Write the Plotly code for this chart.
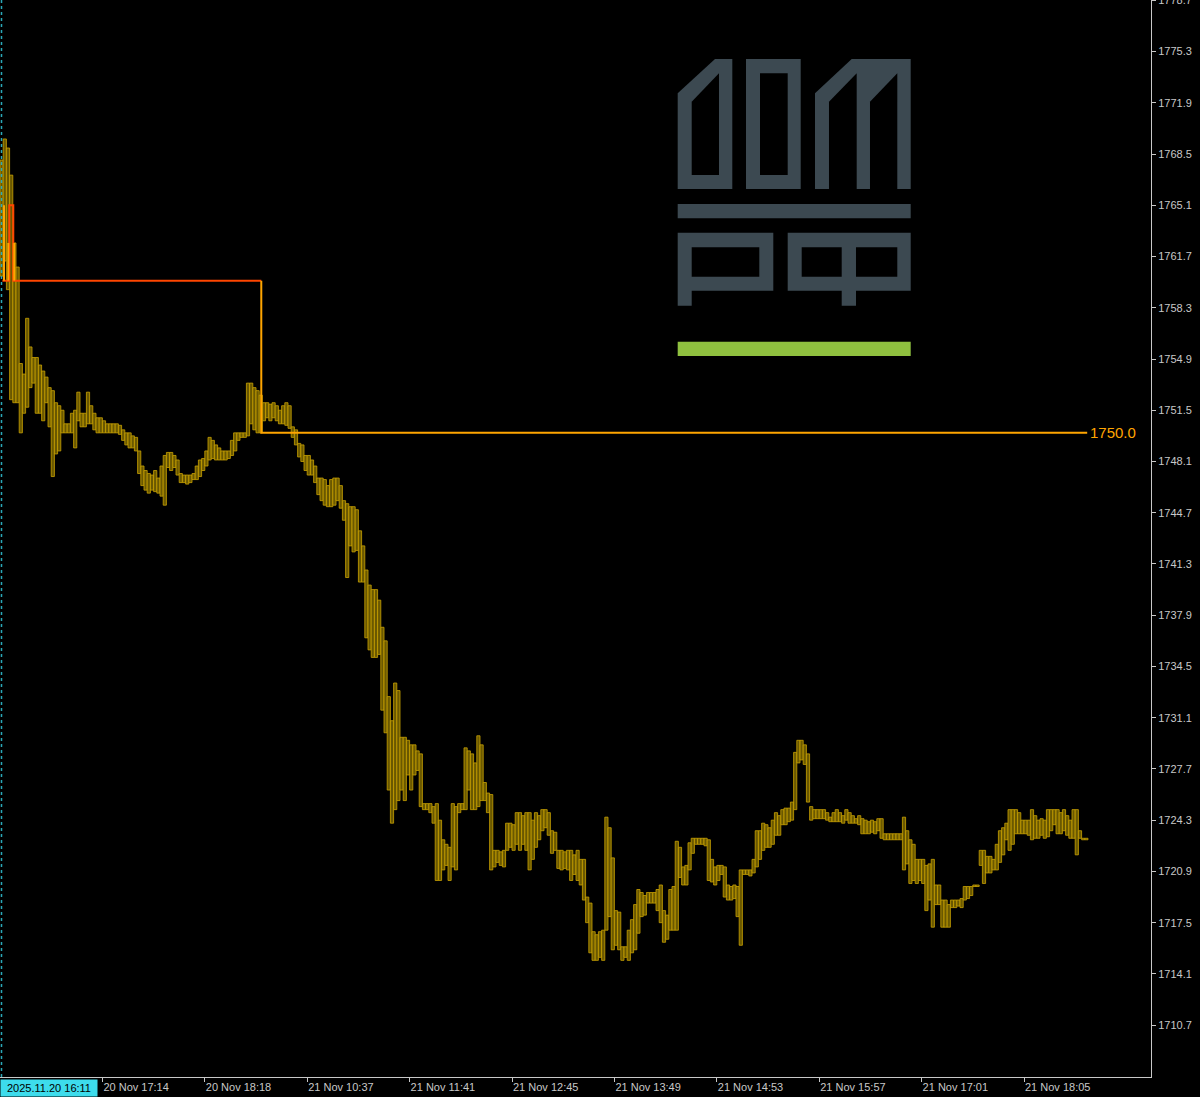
import plotly.graph_objects as go

# ---------------- data (2-minute bars, price) ----------------
bar_high = [
    1768.1, 1769.5, 1768.9, 1767.1, 1762.6, 1761.0, 1754.6, 1753.9, 1757.6, 1755.7,
    1755.0, 1755.0, 1754.5, 1754.1, 1753.7, 1753.0, 1752.8, 1752.0, 1751.8, 1751.5,
    1750.6, 1750.6, 1751.3, 1751.5, 1752.7, 1751.3, 1751.3, 1752.7, 1751.8, 1751.3,
    1751.0, 1751.0, 1750.8, 1750.6, 1750.6, 1750.6, 1750.6, 1750.5, 1750.2, 1750.0,
    1750.0, 1749.8, 1749.7, 1748.8, 1747.8, 1747.5, 1747.3, 1747.2, 1747.5, 1747.0,
    1747.8, 1748.5, 1748.7, 1748.7, 1748.5, 1748.2, 1747.3, 1747.2, 1747.2, 1747.2,
    1747.3, 1747.8, 1748.2, 1748.3, 1748.8, 1749.7, 1749.5, 1749.2, 1749.0, 1748.8,
    1748.8, 1748.8, 1749.5, 1750.0, 1750.0, 1750.0, 1750.0, 1753.3, 1753.3, 1753.0,
    1752.8, 1752.5, 1752.0, 1752.0, 1751.9, 1752.0, 1751.8, 1751.5, 1751.8, 1752.0,
    1751.8, 1750.4, 1750.2, 1749.3, 1749.2, 1748.5, 1748.5, 1748.2, 1747.8, 1747.0,
    1747.0, 1746.9, 1746.5, 1746.9, 1747.0, 1747.0, 1746.5, 1745.5, 1745.3, 1745.1,
    1745.1, 1744.9, 1743.5, 1742.5, 1740.9, 1739.9, 1739.6, 1739.6, 1738.9, 1737.1,
    1736.2, 1732.5, 1730.9, 1733.4, 1732.9, 1729.8, 1729.8, 1729.6, 1729.3, 1729.3,
    1728.9, 1728.7, 1725.4, 1725.4, 1725.4, 1725.2, 1725.4, 1724.3, 1723.0, 1722.7,
    1722.5, 1725.4, 1725.2, 1725.4, 1725.4, 1729.1, 1728.9, 1728.7, 1728.1, 1729.9,
    1729.3, 1726.8, 1726.1, 1726.0, 1722.3, 1722.3, 1722.2, 1722.3, 1724.1, 1724.1,
    1724.0, 1724.8, 1724.8, 1724.6, 1724.8, 1724.8, 1724.3, 1724.8, 1724.6, 1725.0,
    1725.0, 1724.8, 1723.6, 1723.5, 1722.3, 1722.3, 1722.2, 1722.3, 1722.3, 1722.0,
    1722.3, 1721.7, 1721.7, 1719.2, 1718.8, 1716.9, 1716.7, 1716.9, 1717.0, 1724.5,
    1723.8, 1721.8, 1718.3, 1718.2, 1715.9, 1715.9, 1717.0, 1717.7, 1718.7, 1719.7,
    1719.5, 1719.3, 1719.5, 1719.5, 1719.5, 1719.7, 1720.0, 1718.3, 1718.0, 1719.7,
    1719.9, 1722.9, 1722.5, 1721.2, 1721.3, 1722.8, 1723.1, 1723.1, 1723.1, 1723.1,
    1723.1, 1723.0, 1721.7, 1721.2, 1721.3, 1721.3, 1721.2, 1720.0, 1719.9, 1720.0,
    1719.9, 1721.0, 1721.0, 1721.0, 1721.0, 1721.7, 1723.6, 1723.6, 1724.1, 1724.0,
    1723.8, 1724.3, 1724.8, 1724.6, 1725.0, 1725.1, 1725.1, 1725.5, 1728.8, 1729.6,
    1729.6, 1729.3, 1728.7, 1725.2, 1725.0, 1725.0, 1725.0, 1725.0, 1724.8, 1724.5,
    1724.8, 1725.0, 1724.8, 1724.6, 1725.0, 1724.8, 1724.6, 1724.4, 1724.6, 1724.4,
    1724.3, 1724.2, 1724.3, 1724.2, 1724.4, 1724.4, 1723.4, 1723.4, 1723.4, 1723.4,
    1723.4, 1723.4, 1724.5, 1723.6, 1723.0, 1722.7, 1721.7, 1721.7, 1721.7, 1721.3,
    1721.4, 1721.7, 1720.0, 1720.0, 1719.0, 1719.0, 1718.7, 1719.0, 1719.0, 1719.0,
    1719.1, 1719.9, 1719.9, 1719.9, 1720.0, 1720.0, 1722.3, 1722.3, 1721.9, 1721.9,
    1721.7, 1722.7, 1723.6, 1723.8, 1724.1, 1725.0, 1725.0, 1725.0, 1724.8, 1724.3,
    1724.3, 1724.3, 1725.0, 1724.6, 1724.3, 1724.4, 1724.3, 1725.0, 1725.0, 1725.0,
    1725.0, 1724.8, 1725.0, 1724.6, 1724.3, 1725.0, 1725.0, 1723.6, 1723.1, 1723.1,
]
bar_low = [
    1760.4, 1761.4, 1759.5, 1752.2, 1752.0, 1752.0, 1750.0, 1751.3, 1751.7, 1753.0,
    1753.3, 1751.3, 1751.3, 1750.8, 1752.0, 1750.4, 1747.1, 1748.6, 1748.8, 1750.0,
    1750.0, 1750.0, 1750.0, 1749.0, 1750.8, 1750.4, 1750.4, 1750.6, 1750.6, 1750.2,
    1750.0, 1750.0, 1750.0, 1750.0, 1750.0, 1750.0, 1750.0, 1749.9, 1749.5, 1749.2,
    1749.0, 1749.0, 1748.8, 1747.3, 1746.5, 1746.2, 1746.0, 1746.2, 1746.1, 1746.0,
    1745.8, 1745.2, 1747.7, 1747.5, 1747.7, 1747.2, 1746.7, 1746.7, 1746.6, 1746.7,
    1746.9, 1746.9, 1747.1, 1747.5, 1747.8, 1748.2, 1748.3, 1748.2, 1748.2, 1748.2,
    1748.2, 1748.3, 1748.5, 1748.8, 1749.5, 1749.7, 1749.7, 1749.8, 1750.6, 1750.2,
    1750.0, 1750.0, 1750.8, 1751.0, 1750.8, 1751.0, 1750.8, 1750.6, 1750.6, 1750.5,
    1750.3, 1749.7, 1749.2, 1748.4, 1748.1, 1747.5, 1747.2, 1747.2, 1746.7, 1745.9,
    1745.5, 1745.2, 1745.1, 1745.1, 1745.2, 1745.5, 1745.0, 1744.2, 1740.4, 1742.5,
    1742.1, 1742.2, 1740.1, 1740.1, 1736.4, 1735.6, 1735.1, 1735.1, 1735.3, 1731.6,
    1730.1, 1726.3, 1724.1, 1725.0, 1725.6, 1726.3, 1725.6, 1727.3, 1726.3, 1727.3,
    1727.6, 1725.2, 1725.0, 1725.0, 1724.8, 1724.1, 1720.3, 1720.3, 1721.0, 1721.3,
    1720.3, 1721.2, 1721.0, 1724.8, 1725.0, 1725.0, 1726.3, 1725.0, 1725.0, 1725.2,
    1725.6, 1725.6, 1724.8, 1721.0, 1721.2, 1721.5, 1721.3, 1721.2, 1722.3, 1722.5,
    1722.3, 1722.7, 1722.3, 1722.7, 1722.3, 1721.0, 1721.7, 1722.5, 1723.0, 1723.6,
    1723.8, 1723.3, 1722.1, 1722.3, 1721.1, 1721.0, 1721.1, 1721.0, 1720.3, 1720.7,
    1720.3, 1720.0, 1719.0, 1717.5, 1715.5, 1715.0, 1715.0, 1715.2, 1715.0, 1717.0,
    1717.9, 1715.7, 1716.0, 1715.7, 1715.0, 1715.2, 1715.0, 1715.5, 1715.7, 1716.8,
    1717.9, 1718.0, 1718.8, 1718.8, 1718.8, 1718.3, 1717.5, 1716.2, 1716.4, 1717.0,
    1717.0, 1717.0, 1720.5, 1720.0, 1720.0, 1721.0, 1722.1, 1722.7, 1722.7, 1722.7,
    1722.6, 1720.3, 1720.2, 1720.0, 1720.3, 1720.7, 1719.2, 1719.0, 1719.0, 1719.1,
    1717.9, 1716.0, 1720.7, 1720.7, 1720.6, 1720.8, 1721.2, 1721.7, 1722.3, 1722.5,
    1722.5, 1722.7, 1723.3, 1723.3, 1724.0, 1724.0, 1724.2, 1724.3, 1725.0, 1728.1,
    1728.3, 1728.0, 1725.5, 1724.3, 1724.4, 1724.4, 1724.4, 1724.4, 1724.3, 1724.2,
    1724.2, 1724.2, 1724.2, 1724.1, 1724.3, 1724.1, 1724.1, 1724.1, 1724.0, 1723.4,
    1723.4, 1723.4, 1723.5, 1723.4, 1723.6, 1723.1, 1723.0, 1723.0, 1723.0, 1723.0,
    1723.0, 1723.0, 1721.0, 1721.4, 1720.1, 1720.3, 1720.1, 1720.3, 1720.1, 1718.3,
    1719.0, 1717.2, 1718.7, 1718.7, 1717.2, 1717.2, 1717.2, 1718.5, 1718.5, 1718.6,
    1718.5, 1719.0, 1719.1, 1719.3, 1719.9, 1719.9, 1721.3, 1720.1, 1720.8, 1720.8,
    1721.0, 1721.0, 1721.5, 1722.0, 1723.0, 1722.3, 1722.7, 1723.4, 1723.4, 1723.4,
    1723.4, 1723.3, 1723.0, 1723.1, 1723.1, 1723.3, 1723.1, 1723.2, 1723.6, 1724.0,
    1723.4, 1723.4, 1723.6, 1723.3, 1723.1, 1723.1, 1722.0, 1723.1, 1723.0, 1723.0,
]
assert len(bar_high) == len(bar_low) == 340
bar_minute = [2 * k + 1 for k in range(len(bar_high))]   # bar index (minutes from 16:11)

# level lines (minute index, price)
red_x = [1.5, 5.8, 5.8, 8.3, 8.3, 163.3]
red_y = [1760.1, 1760.1, 1765.1, 1765.1, 1760.1, 1760.1]
orange_x = [2.5, 2.5, None, 5.2, 5.2, None, 8.9, 8.9, None, 163.3, 163.3, 679.5]
orange_y = [1765.1, 1760.1, None, 1762.6, 1760.1, None, 1762.6, 1760.1, None, 1760.1, 1750.0, 1750.0]
level_value = 1750.0
level_label = "1750.0"

x_tick_vals = [64, 128, 192, 256, 320, 384, 448, 512, 576, 640]
x_tick_text = ["20 Nov 17:14", "20 Nov 18:18", "21 Nov 10:37", "21 Nov 11:41", "21 Nov 12:45",
               "21 Nov 13:49", "21 Nov 14:53", "21 Nov 15:57", "21 Nov 17:01", "21 Nov 18:05"]
start_label = "2025.11.20 16:11"
y_tick_vals = [1710.7, 1714.1, 1717.5, 1720.9, 1724.3, 1727.7, 1731.1, 1734.5, 1737.9, 1741.3,
               1744.7, 1748.1, 1751.5, 1754.9, 1758.3, 1761.7, 1765.1, 1768.5, 1771.9, 1775.3, 1778.7]

# ---------------- figure ----------------
FONT = "Liberation Sans, Arial, sans-serif"
AXIS_COL = "#c8c8c8"
W, H = 1200, 1097
ML, MR, MT, MB = 0, 49, 0, 20
PW, PH = W - ML - MR, H - MT - MB

fig = go.Figure()
fig.add_trace(go.Bar(
    x=bar_minute,
    y=[h - l for h, l in zip(bar_high, bar_low)],
    base=bar_low,
    width=2,
    marker=dict(color="#6a5800", line=dict(color="#c9a200", width=0.8)),
    hoverinfo="skip",
))
fig.add_trace(go.Scatter(x=red_x, y=red_y, mode="lines",
                         line=dict(color="#ff4500", width=2), hoverinfo="skip"))
fig.add_trace(go.Scatter(x=orange_x, y=orange_y, mode="lines",
                         line=dict(color="#ffa500", width=2), hoverinfo="skip"))


def poly(pts):
    return "M " + " L ".join(f"{x / PW:.5f},{1 - y / PH:.5f}" for x, y in pts) + " Z"


SLATE = "#3c4951"
GREEN = "#8fc03f"
logo_fill = [
    [(677.7, 189), (677.7, 93.3), (715, 59), (732.3, 59), (732.3, 189)],           # Д
    [(746, 59), (800.7, 59), (800.7, 189), (746, 189)],                            # О
    [(815, 189), (815, 93.3), (851.7, 59), (910.7, 59), (910.7, 189)],              # М
    [(677.7, 204), (910.7, 204), (910.7, 218.3), (677.7, 218.3)],                   # bar
    [(677.7, 232.7), (773.3, 232.7), (773.3, 290.7), (691.7, 290.7),
     (691.7, 305.7), (677.7, 305.7)],                                               # Р
    [(787.7, 232.7), (910.7, 232.7), (910.7, 290.7), (856, 290.7),
     (856, 305.7), (841.7, 305.7), (841.7, 290.7), (787.7, 290.7)],                 # Ф
]
logo_holes = [
    [(691.7, 175), (691.7, 101.7), (719, 73.3), (719, 175)],
    [(760, 73.3), (787.7, 73.3), (787.7, 175), (760, 175)],
    [(829, 189.5), (829, 101.7), (856.7, 73.3), (856.7, 189.5)],
    [(870, 189.5), (870, 101.7), (897.3, 73.3), (897.3, 189.5)],
    [(691.7, 247.3), (759.3, 247.3), (759.3, 276.7), (691.7, 276.7)],
    [(801.7, 247.3), (841.7, 247.3), (841.7, 276.7), (801.7, 276.7)],
    [(856, 247.3), (897.3, 247.3), (897.3, 276.7), (856, 276.7)],
]
shapes = []
for p in logo_fill:
    shapes.append(dict(type="path", path=poly(p), xref="paper", yref="paper",
                       fillcolor=SLATE, line=dict(width=0), layer="below"))
for p in logo_holes:
    shapes.append(dict(type="path", path=poly(p), xref="paper", yref="paper",
                       fillcolor="#000000", line=dict(width=0), layer="below"))
shapes.append(dict(type="path",
                   path=poly([(677.7, 341.7), (910.7, 341.7), (910.7, 356), (677.7, 356)]),
                   xref="paper", yref="paper", fillcolor=GREEN, line=dict(width=0), layer="below"))
# chart start separator (dotted)
shapes.append(dict(type="line", xref="paper", yref="paper", x0=1.5 / PW, x1=1.5 / PW, y0=0, y1=1,
                   line=dict(color="#2aa8b8", width=1.5, dash="dot")))

fig.update_layout(
    width=W, height=H,
    margin=dict(l=ML, r=MR, t=MT, b=MB, pad=0, autoexpand=False),
    paper_bgcolor="#000000", plot_bgcolor="#000000",
    showlegend=False,
    font=dict(family=FONT, size=11, color=AXIS_COL),
    shapes=shapes,
    xaxis=dict(
        range=[0, PW / 1.6], showgrid=False, zeroline=False, automargin=False,
        showline=True, linecolor=AXIS_COL, linewidth=1, mirror=False,
        ticks="outside", ticklen=4, tickcolor=AXIS_COL, tickwidth=1,
        tickvals=x_tick_vals, ticktext=x_tick_text,
        ticklabelposition="outside right",
        tickfont=dict(family=FONT, size=11, color=AXIS_COL),
        fixedrange=True,
    ),
    yaxis=dict(
        range=[1707.26, 1778.72], side="right", showgrid=False, zeroline=False,
        automargin=False,
        showline=True, linecolor=AXIS_COL, linewidth=1,
        ticks="outside", ticklen=4, tickcolor=AXIS_COL, tickwidth=1,
        tickvals=y_tick_vals, tickformat=".1f",
        ticklabeloverflow="allow",
        tickfont=dict(family=FONT, size=11, color=AXIS_COL),
        fixedrange=True,
    ),
    annotations=[
        dict(text=start_label, xref="x", yref="paper", x=0, y=-(1088 - PH) / PH,
             xanchor="left", yanchor="middle", showarrow=False,
             bgcolor="#3ddcec", font=dict(family=FONT, size=11, color="#000000"),
             width=94, height=14, borderpad=1, align="center"),
        dict(text=level_label, xref="x", yref="y", x=680.3, y=level_value,
             xanchor="left", yanchor="middle", showarrow=False,
             font=dict(family=FONT, size=15, color="#ffa500")),
    ],
)

fig.write_html("out.html", config={"displayModeBar": False},
               post_script="document.body.style.margin='0px';document.body.style.background='#000';")
